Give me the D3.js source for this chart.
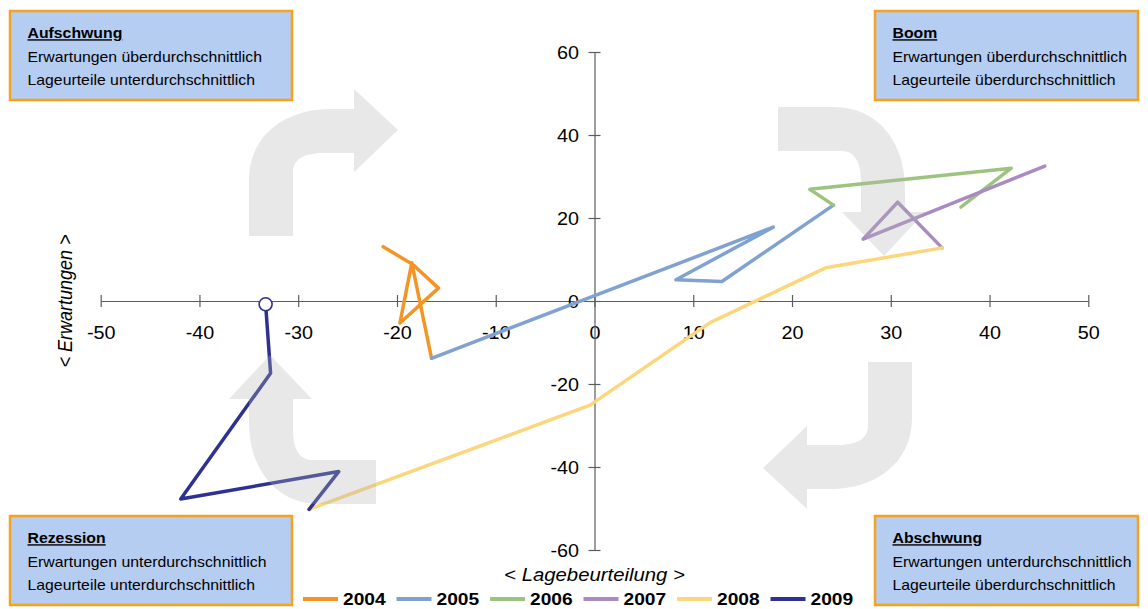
<!DOCTYPE html>
<html>
<head>
<meta charset="utf-8">
<script src="https://cdn.jsdelivr.net/npm/d3@7"></script>
<style>
  html, body { margin: 0; padding: 0; background: #fff; }
  svg { display: block; }
  text { font-family: "Liberation Sans", Arial, sans-serif; }
</style>
</head>
<body>
<svg id="chart" width="1148" height="609"></svg>
<script>
// Konjunkturuhr: Lagebeurteilung (x) gegen Erwartungen (y)
const years = ["2004", "2005", "2006", "2007", "2008", "2009"];
const colors = ["#f39424", "#7fa2d1", "#9dc47f", "#a98bc1", "#fcd67c", "#2e3192"];

// [Lagebeurteilung, Erwartungen]
const s2004 = [[-21.4, 13.1], [-18.4, 8.8], [-15.8, 3.1], [-19.7, -5.3], [-18.5, 9.2], [-16.5, -13.8]];
const s2005 = [[-16.5, -13.8], [18.1, 17.8], [8.25, 5.1], [12.9, 4.7], [24.2, 23.1]];
const s2006 = [[24.2, 23.1], [21.8, 26.9], [42.2, 32.0], [37.1, 22.6]];
const s2007 = [[45.6, 32.5], [27.2, 14.9], [30.7, 23.8], [35.2, 12.8]];
const s2008 = [[35.2, 12.8], [23.4, 8.0], [11.7, -5.2], [-0.45, -25.1], [-28.9, -50.2]];
const s2009 = [[-28.9, -50.2], [-25.9, -41.1], [-41.9, -47.7], [-32.8, -17.4], [-33.3, -0.8]];
const seriesData = [s2004, s2005, s2006, s2007, s2008, s2009];

const xTicks = [-50, -40, -30, -20, -10, 0, 10, 20, 30, 40, 50];
const yTicks = [-60, -40, -20, 0, 20, 40, 60];

const phaseTitles = ["Aufschwung", "Boom", "Rezession", "Abschwung"];
const phaseLine1 = ["Erwartungen überdurchschnittlich", "Erwartungen überdurchschnittlich",
                    "Erwartungen unterdurchschnittlich", "Erwartungen unterdurchschnittlich"];
const phaseLine2 = ["Lageurteile unterdurchschnittlich", "Lageurteile überdurchschnittlich",
                    "Lageurteile unterdurchschnittlich", "Lageurteile überdurchschnittlich"];

const SX = 1.13; // horizontal text stretch
const svg = d3.select("#chart");
const fmt = d => String(d); // plain hyphen-minus

const x = d3.scaleLinear().domain([-50, 50]).range([100.7, 1088.3]);
const y = d3.scaleLinear().domain([-60, 60]).range([550, 52]);

// ---- axes crossing at the origin ----
const axisColor = "#5c5c5c";
const gx = svg.append("g").attr("transform", `translate(0,${y(0)})`)
  .call(d3.axisBottom(x).tickValues(xTicks).tickSizeInner(6).tickSizeOuter(0).tickFormat(fmt));
gx.select(".domain").attr("stroke", axisColor).attr("stroke-width", 1.2);
gx.selectAll(".tick line").attr("y1", -6).attr("y2", 6).attr("stroke", axisColor).attr("stroke-width", 1.2);
gx.selectAll(".tick text").attr("y", 38).attr("dy", 0).attr("fill", "#000")
  .attr("font-size", 17.5).attr("font-family", "Liberation Sans, Arial, sans-serif")
  .attr("transform", `scale(${SX},1)`);

const gy = svg.append("g").attr("transform", `translate(${x(0)},0)`)
  .call(d3.axisLeft(y).tickValues(yTicks).tickSizeInner(6).tickSizeOuter(0).tickFormat(fmt));
gy.select(".domain").attr("stroke", axisColor).attr("stroke-width", 1.2);
gy.selectAll(".tick line").attr("x1", -6).attr("x2", 6).attr("stroke", axisColor).attr("stroke-width", 1.2);
gy.selectAll(".tick text").attr("x", -15.5 / SX).attr("dy", "0.36em").attr("fill", "#000")
  .attr("font-size", 17.5).attr("font-family", "Liberation Sans, Arial, sans-serif")
  .attr("transform", `scale(${SX},1)`);

// axis titles
svg.append("text")
  .attr("transform", `translate(${x(0)},581) scale(${SX},1)`)
  .attr("text-anchor", "middle").attr("font-size", 18).attr("font-style", "italic")
  .text("< Lagebeurteilung >");
svg.append("text")
  .attr("transform", `translate(72,${y(0)}) rotate(-90) scale(1,${SX})`)
  .attr("text-anchor", "middle").attr("font-size", 18).attr("font-style", "italic")
  .text("< Erwartungen >");

// ---- yearly paths ----
const line = d3.line().x(d => x(d[0])).y(d => y(d[1]));
const gLines = svg.append("g");
seriesData.forEach((s, i) => {
  gLines.append("path").datum(s)
    .attr("d", line)
    .attr("fill", "none")
    .attr("stroke", colors[i])
    .attr("stroke-width", 3.5)
    .attr("stroke-linejoin", "round")
    .attr("stroke-linecap", "round");
});

// ---- translucent cycle arrows drawn over the paths ----
const arrowShape = "M0,0 L0,-56 C0,-102 38,-127 81,-127 L105,-127 L105,-147 L149,-106 L105,-64 L105,-83 L74,-83 C56,-83 44,-77 44,-64 L44,0 Z";
const arrowPlacements = [
  { tx: 249, ty: 236, rot: 0 },
  { tx: 778, ty: 107, rot: 90 },
  { tx: 912, ty: 362, rot: 180 },
  { tx: 376, ty: 504, rot: 270 }
];
svg.append("g").selectAll("path").data(arrowPlacements).join("path")
  .attr("d", arrowShape)
  .attr("transform", d => `translate(${d.tx},${d.ty}) rotate(${d.rot})`)
  .attr("fill", "#b4b4b4")
  .attr("fill-opacity", 0.3);

// end marker of the last year
const last = s2009[s2009.length - 1];
svg.append("circle")
  .attr("cx", x(last[0])).attr("cy", y(last[1])).attr("r", 6.5)
  .attr("fill", "#fff").attr("stroke", colors[5]).attr("stroke-width", 1.6);

// ---- phase boxes ----
const boxes = [
  { x: 10, y: 11, w: 282, h: 89 },
  { x: 875, y: 11, w: 263, h: 89 },
  { x: 10, y: 516, w: 282, h: 89 },
  { x: 875, y: 516, w: 263, h: 89 }
];
const gBoxes = svg.append("g");
boxes.forEach((b, i) => {
  gBoxes.append("rect").attr("x", b.x).attr("y", b.y).attr("width", b.w).attr("height", b.h)
    .attr("fill", "#b5cdf0").attr("stroke", "#f7a11d").attr("stroke-width", 2.5);
  const tx = b.x + 17.5;
  gBoxes.append("text").attr("transform", `translate(${tx},${b.y + 27.3}) scale(${SX},1)`)
    .attr("font-size", 14).attr("font-weight", "bold").attr("text-decoration", "underline")
    .text(phaseTitles[i]);
  gBoxes.append("text").attr("transform", `translate(${tx},${b.y + 50.7}) scale(${SX},1)`)
    .attr("font-size", 14).text(phaseLine1[i]);
  gBoxes.append("text").attr("transform", `translate(${tx},${b.y + 74}) scale(${SX},1)`)
    .attr("font-size", 14).text(phaseLine2[i]);
});

// ---- legend ----
const gLegend = svg.append("g");
years.forEach((yr, i) => {
  const lx = 303 + i * 93.5;
  gLegend.append("line").attr("x1", lx).attr("x2", lx + 35).attr("y1", 599).attr("y2", 599)
    .attr("stroke", colors[i]).attr("stroke-width", 4);
  gLegend.append("text").attr("transform", `translate(${lx + 40},605) scale(${SX},1)`)
    .attr("font-size", 17).attr("font-weight", "bold").text(yr);
});
</script>
</body>
</html>
